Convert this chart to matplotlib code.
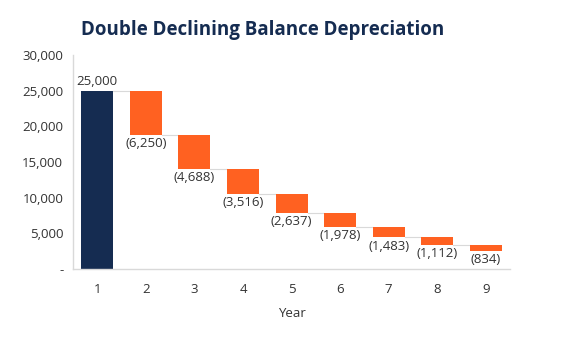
import matplotlib.pyplot as plt
from matplotlib.ticker import FuncFormatter

plt.rcParams['font.family'] = ['Open Sans', 'DejaVu Sans']

years = [1, 2, 3, 4, 5, 6, 7, 8, 9]
start_value = 25000
depreciation = [6250, 4688, 3516, 2637, 1978, 1483, 1112, 834]

navy = '#152c51'
orange = '#ff6121'
text_col = '#333333'
grid_col = '#d9d9d9'

fig = plt.figure(figsize=(5.7, 3.42), dpi=100)
ax = fig.add_axes([0.128, 0.213, 0.767, 0.626])

width = 0.66
# first bar: the starting value
ax.bar(years[0], start_value, width=width, color=navy)
ax.text(years[0], start_value + 400, f"{start_value:,}", ha='center', va='bottom',
        fontsize=9.5, color=text_col)

# floating bars for each year's depreciation
level = start_value
for x, d in zip(years[1:], depreciation):
    ax.plot([x - 1 + width / 2, x - width / 2], [level, level], color=grid_col, lw=0.8, zorder=1)
    ax.bar(x, d, bottom=level - d, width=width, color=orange, zorder=2)
    level -= d
    ax.text(x, level - 300, f"({d:,})", ha='center', va='top', fontsize=9.5, color=text_col)

ax.set_xlim(0.5, 9.5)
ax.set_ylim(0, 30000)
ax.set_xticks(years)
ax.set_yticks(range(0, 30001, 5000))
ax.yaxis.set_major_formatter(FuncFormatter(lambda v, p: '-' if v == 0 else f"{int(v):,}"))
ax.tick_params(length=0, labelsize=9.5, labelcolor=text_col)
ax.tick_params(axis='x', pad=10)
ax.tick_params(axis='y', pad=7)

for s in ['top', 'right']:
    ax.spines[s].set_visible(False)
for s in ['left', 'bottom']:
    ax.spines[s].set_color(grid_col)
    ax.spines[s].set_linewidth(1)

ax.set_xlabel("Year", fontsize=9.5, color=text_col, labelpad=8)
fig.text(0.142, 0.912, "Double Declining Balance Depreciation", fontsize=13.5,
         fontweight='bold', color=navy, ha='left', va='center')

fig.savefig('out.png', dpi=100)
